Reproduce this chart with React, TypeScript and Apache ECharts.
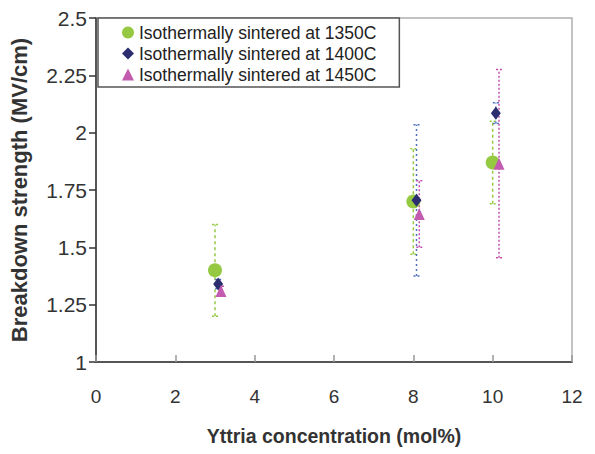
import React, { useEffect, useRef } from "react";
import * as echarts from "echarts";

const names = [
  "Isothermally sintered at 1350C",
  "Isothermally sintered at 1400C",
  "Isothermally sintered at 1450C",
];
const x1350 = [3, 8, 10];
const y1350 = [1.4, 1.7, 1.87];
const e1350 = [0.2, 0.23, 0.18];
const x1400 = [3.08, 8.08, 10.08];
const y1400 = [1.34, 1.705, 2.085];
const e1400 = [0.02, 0.33, 0.045];
const x1450 = [3.15, 8.15, 10.16];
const y1450 = [1.31, 1.645, 1.865];
const e1450 = [0.02, 0.145, 0.41];
const yTicks = [1, 1.25, 1.5, 1.75, 2, 2.25, 2.5];

const colors = ["#95c942", "#2b2d6e", "#c35bb0"];
const errColors = ["#95c942", "#4e6ec0", "#c450b0"];
const dashes = [[3, 3], [2, 3], [2, 2]];
const FONT = "'Liberation Sans', Arial, sans-serif";

function errSeries(xs: number[], ys: number[], es: number[], idx: number) {
  return {
    type: "custom",
    name: names[idx] + " err",
    silent: true,
    z: 1,
    data: xs.map((x, i) => [x, ys[i] - es[i], ys[i] + es[i]]),
    renderItem: (params: any, api: any) => {
      const lo = api.coord([api.value(0), api.value(1)]);
      const hi = api.coord([api.value(0), api.value(2)]);
      const style = { stroke: errColors[idx], lineWidth: 1.5, lineDash: dashes[idx] };
      const w = 3;
      return {
        type: "group",
        children: [
          { type: "line", shape: { x1: lo[0], y1: lo[1], x2: hi[0], y2: hi[1] }, style },
          { type: "line", shape: { x1: hi[0] - w, y1: hi[1], x2: hi[0] + w, y2: hi[1] }, style: { ...style, lineDash: [2, 2] } },
          { type: "line", shape: { x1: lo[0] - w, y1: lo[1], x2: lo[0] + w, y2: lo[1] }, style: { ...style, lineDash: [2, 2] } },
        ],
      };
    },
  };
}

export default function App() {
  const ref = useRef<HTMLDivElement>(null);
  useEffect(() => {
    document.body.style.margin = "0";
    if (!ref.current) return;
    const chart = echarts.init(ref.current, null, { renderer: "svg" });
    chart.setOption({
      animation: false,
      backgroundColor: "#ffffff",
      grid: {
        left: 96,
        top: 18,
        right: 23,
        bottom: 92,
        show: true,
        borderColor: "#b0b0b0",
        borderWidth: 1.5,
        containLabel: false,
        outerBoundsMode: "none",
      },
      legend: {
        data: names,
        orient: "vertical",
        left: 98,
        top: 18,
        padding: [4, 23, 2, 24],
        itemGap: 0,
        itemWidth: 12,
        itemHeight: 12,
        borderColor: "#555555",
        borderWidth: 1.5,
        backgroundColor: "#ffffff",
        textStyle: { fontFamily: FONT, fontSize: 17.5, lineHeight: 21, color: "#222222" },
      },
      xAxis: {
        type: "value",
        min: 0,
        max: 12,
        interval: 2,
        name: "Yttria concentration (mol%)",
        nameLocation: "middle",
        nameGap: 64,
        nameTextStyle: { fontFamily: FONT, fontSize: 19.5, fontWeight: "bold", color: "#333333" },
        axisLine: { onZero: false, lineStyle: { color: "#333333", width: 1.5 } },
        axisTick: { inside: true, length: 7, lineStyle: { color: "#999999", width: 1.5 } },
        axisLabel: { fontFamily: FONT, fontSize: 19, color: "#333333", margin: 25 },
        splitLine: { show: false },
      },
      yAxis: {
        type: "value",
        min: 1,
        max: 2.5,
        interval: 0.25,
        name: "Breakdown strength (MV/cm)",
        nameLocation: "middle",
        nameGap: 66,
        nameTextStyle: { fontFamily: FONT, fontSize: 22, fontWeight: "bold", color: "#333333" },
        axisLine: { onZero: false, lineStyle: { color: "#333333", width: 1.5 } },
        axisTick: { length: 7, lineStyle: { color: "#333333", width: 1.5 } },
        axisLabel: {
          fontFamily: FONT,
          fontSize: 21,
          color: "#333333",
          margin: 9,
          formatter: (v: number) => (yTicks.includes(v) ? String(v) : ""),
        },
        splitLine: { show: false },
      },
      series: [
        errSeries(x1350, y1350, e1350, 0),
        errSeries(x1400, y1400, e1400, 1),
        errSeries(x1450, y1450, e1450, 2),
        {
          type: "scatter",
          name: names[0],
          symbol: "circle",
          symbolSize: 14,
          itemStyle: { color: colors[0], opacity: 1 },
          data: x1350.map((x, i) => [x, y1350[i]]),
          z: 3,
        },
        {
          type: "scatter",
          name: names[1],
          symbol: "diamond",
          symbolSize: [10, 13],
          itemStyle: { color: colors[1], opacity: 1 },
          data: x1400.map((x, i) => [x, y1400[i]]),
          z: 4,
        },
        {
          type: "scatter",
          name: names[2],
          symbol: "triangle",
          symbolSize: [11, 12],
          itemStyle: { color: colors[2], opacity: 1 },
          data: x1450.map((x, i) => [x, y1450[i]]),
          z: 5,
        },
      ],
    });
    return () => chart.dispose();
  }, []);
  return <div ref={ref} style={{ width: 595, height: 454 }} />;
}
